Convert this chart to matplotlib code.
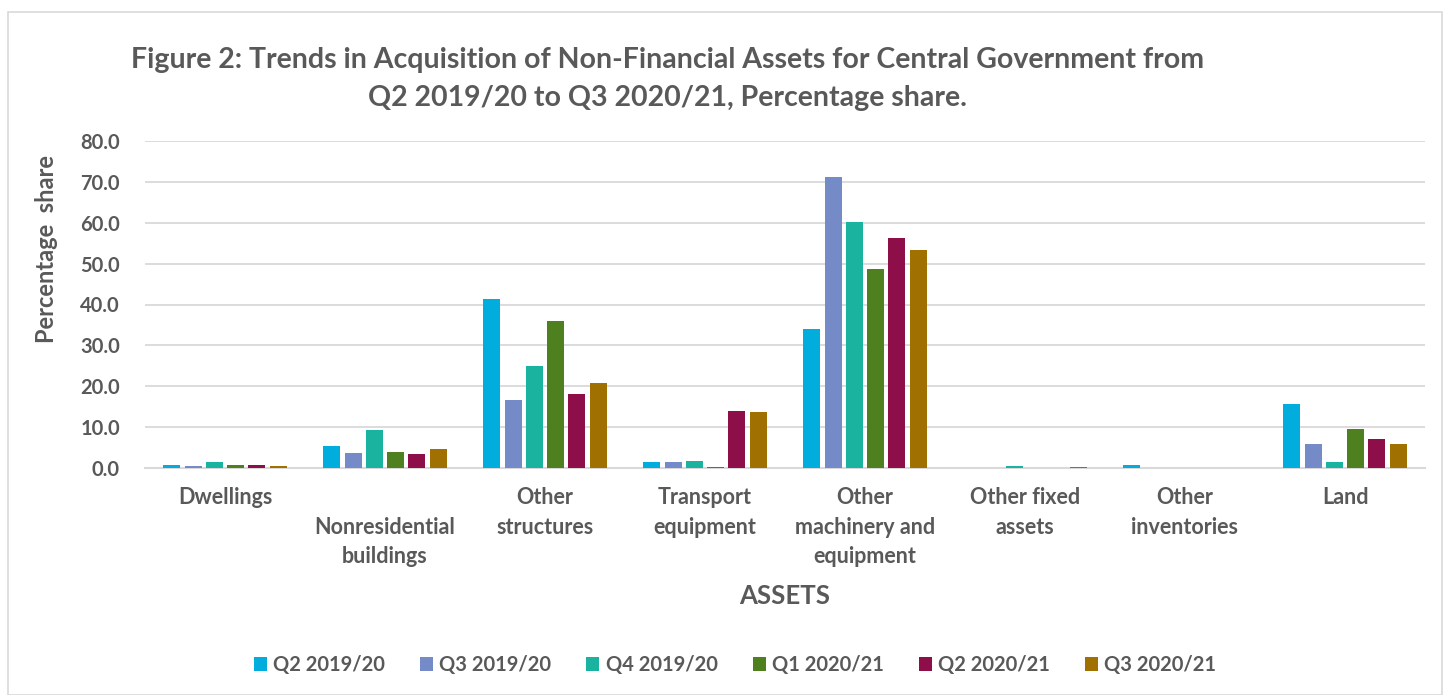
import matplotlib
matplotlib.use("Agg")
import matplotlib.pyplot as plt
import numpy as np
from matplotlib.patches import Rectangle

categories = ["Dwellings", "\nNonresidential\nbuildings", "Other\nstructures",
              "Transport\nequipment", "Other\nmachinery and\nequipment",
              "Other fixed\nassets", "Other\ninventories", "Land"]
series_names = ["Q2 2019/20", "Q3 2019/20", "Q4 2019/20", "Q1 2020/21", "Q2 2020/21", "Q3 2020/21"]
q2_1920 = [0.8, 5.4, 41.4, 1.5, 33.9, 0.0, 0.7, 15.6]
q3_1920 = [0.4, 3.7, 16.7, 1.4, 71.2, 0.0, 0.0, 5.9]
q4_1920 = [1.4, 9.4, 24.9, 1.6, 60.3, 0.5, 0.0, 1.4]
q1_2021 = [0.8, 3.8, 35.9, 0.3, 48.8, 0.1, 0.0, 9.6]
q2_2021 = [0.7, 3.4, 18.1, 13.9, 56.2, 0.0, 0.0, 7.2]
q3_2021 = [0.5, 4.7, 20.9, 13.8, 53.4, 0.2, 0.0, 5.9]
yticks = [0, 10, 20, 30, 40, 50, 60, 70, 80]

series = [q2_1920, q3_1920, q4_1920, q1_2021, q2_2021, q3_2021]
colors = ["#00ADDC", "#758BC8", "#1AB39F", "#4E8020", "#8E0E4A", "#A07000"]

plt.rcParams['font.family'] = ['Lato', 'DejaVu Sans']
txt = "#595959"

fig = plt.figure(figsize=(14.44, 6.95), dpi=100)
ax = fig.add_axes([145/1444, 1-468/695, 1280/1444, (468-141)/695])

x = np.arange(len(categories))
step = 0.133
width = 0.107
for i, (vals, c, name) in enumerate(zip(series, colors, series_names)):
    ax.bar(x + (i - 2.5) * step, vals, width=width, color=c, label=name, zorder=3)

ax.set_xlim(-0.5, len(categories) - 0.5)
ax.set_ylim(0, 80)
ax.set_yticks(yticks)
ax.set_yticklabels([f"{v:.1f}" for v in yticks], fontsize=14.5, fontweight='bold', color=txt)
ax.set_xticks(x)
ax.set_xticklabels(categories, fontsize=15.5, fontweight='bold', color=txt, linespacing=1.5)
ax.tick_params(axis='both', length=0)
ax.tick_params(axis='x', pad=14)
ax.tick_params(axis='y', pad=18)
ax.grid(axis='y', color='#D9D9D9', linewidth=1.3, zorder=0)
for s in ['top', 'right', 'left']:
    ax.spines[s].set_visible(False)
ax.spines['bottom'].set_color('#D9D9D9')
ax.spines['bottom'].set_linewidth(1.5)

ax.set_ylabel("Percentage  share", fontsize=17, fontweight='bold', color=txt)
ax.yaxis.set_label_coords(-0.068, 0.67)

fig.text(668/1444, 1-60/695, "Figure 2: Trends in Acquisition of Non-Financial Assets for Central Government from",
         ha='center', va='center', fontsize=20.5, fontweight='bold', color=txt)
fig.text(668/1444, 1-98/695, "Q2 2019/20 to Q3 2020/21, Percentage share.",
         ha='center', va='center', fontsize=20.5, fontweight='bold', color=txt)
fig.text(785/1444, 1-596/695, "ASSETS", ha='center', va='center', fontsize=18.5, fontweight='bold', color=txt)

fig.legend(loc='center', bbox_to_anchor=(735/1444, 1-665/695), ncol=6, frameon=False,
           prop={'size': 14.5, 'weight': 'bold'}, labelcolor=txt, handlelength=0.65, handleheight=0.65,
           handletextpad=0.3, columnspacing=1.75)

fig.patches.append(Rectangle((8/1444, 0), 1 - 8/1444 - 2/1444, 1 - 12/695, transform=fig.transFigure,
                             fill=False, edgecolor='#D9D9D9', linewidth=1.2))

fig.savefig("out.png", dpi=100, facecolor='white')
